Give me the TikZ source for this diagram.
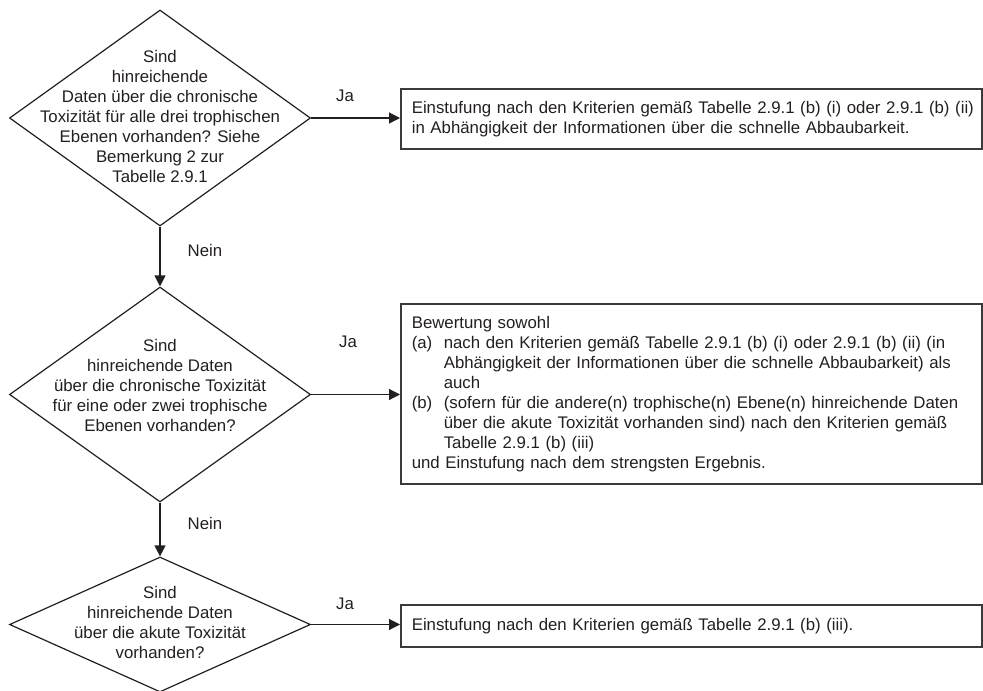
\documentclass[tikz,border=0pt]{standalone}
\usepackage{fontspec}
\setmainfont{Liberation Sans}
\usetikzlibrary{shapes.geometric,arrows.meta}
\definecolor{txt}{HTML}{231F20}
\definecolor{boxc}{HTML}{3A3A3A}
\newcommand{\tline}[1]{\mbox{#1}}
\begin{document}
\begin{tikzpicture}[x=1pt,y=-1pt,
  every node/.style={font=\fontsize{16.8}{20}\selectfont, text=txt},
  dia/.style={draw=txt, shape=diamond, inner sep=0pt, line width=1.2pt, minimum width=301pt},
  qtext/.style={align=center, inner sep=0pt},
  outbox/.style={draw=boxc, line width=1.6pt, anchor=north west, minimum width=581pt, text width=559pt, inner xsep=11pt, inner ysep=0pt, align=left},
  lbl/.style={inner sep=0pt},
  conn/.style={draw=txt, line width=1.2pt, -{Triangle[length=11pt,width=11pt]}}
]
\useasboundingbox (0,0) rectangle (983,691);
% decision diamonds
\node[dia, minimum height=216pt] (d1) at (160,118) {};
\node[dia, minimum height=215pt] (d2) at (160,394.5) {};
\node[dia, minimum height=135pt] (d3) at (160,624.5) {};
% question texts
\node[qtext] (t1) at (160,116) {Sind\\hinreichende\\Daten über die chronische\\Toxizität für alle drei trophischen\\Ebenen vorhanden? Siehe\\Bemerkung 2 zur\\Tabelle 2.9.1};
\node[qtext] (t2) at (160,385) {Sind\\hinreichende Daten\\über die chronische Toxizität\\für eine oder zwei trophische\\Ebenen vorhanden?};
\node[qtext] (t3) at (160,622) {Sind\\hinreichende Daten\\über die akute Toxizität\\vorhanden?};
% result boxes
\node[outbox, minimum height=60pt] (b1) at (400,88) {\tline{Einstufung nach den Kriterien gemäß Tabelle 2.9.1 (b) (i) oder 2.9.1 (b) (ii)}\\\tline{in Abhängigkeit der Informationen über die schnelle Abbaubarkeit.}};
\node[outbox, minimum height=180pt] (b2) at (400,303) {\tline{Bewertung sowohl}\\
\tline{\makebox[32pt][l]{(a)}nach den Kriterien gemäß Tabelle 2.9.1 (b) (i) oder 2.9.1 (b) (ii) (in}\\
\tline{\hspace*{32pt}Abhängigkeit der Informationen über die schnelle Abbaubarkeit) als}\\
\tline{\hspace*{32pt}auch}\\
\tline{\makebox[32pt][l]{(b)}(sofern für die andere(n) trophische(n) Ebene(n) hinreichende Daten}\\
\tline{\hspace*{32pt}über die akute Toxizität vorhanden sind) nach den Kriterien gemäß}\\
\tline{\hspace*{32pt}Tabelle 2.9.1 (b) (iii)}\\
\tline{und Einstufung nach dem strengsten Ergebnis.}};
\node[outbox, minimum height=42pt] (b3) at (400,604) {\tline{Einstufung nach den Kriterien gemäß Tabelle 2.9.1 (b) (iii).}};
% connectors
\draw[conn] (d1.south) -- (d2.north);
\draw[conn] (d2.south) -- (d3.north);
\draw[conn] (d1.east) -- (d1.east -| b1.west);
\draw[conn] (d2.east) -- (d2.east -| b2.west);
\draw[conn] (d3.east) -- (d3.east -| b3.west);
% labels
\node[lbl] (ja1) at (345,96) {Ja};
\node[lbl] (ja2) at (348,342) {Ja};
\node[lbl] (ja3) at (345,604) {Ja};
\node[lbl] (n1) at (205,250) {Nein};
\node[lbl] (n2) at (205,523) {Nein};
\end{tikzpicture}
\end{document}
